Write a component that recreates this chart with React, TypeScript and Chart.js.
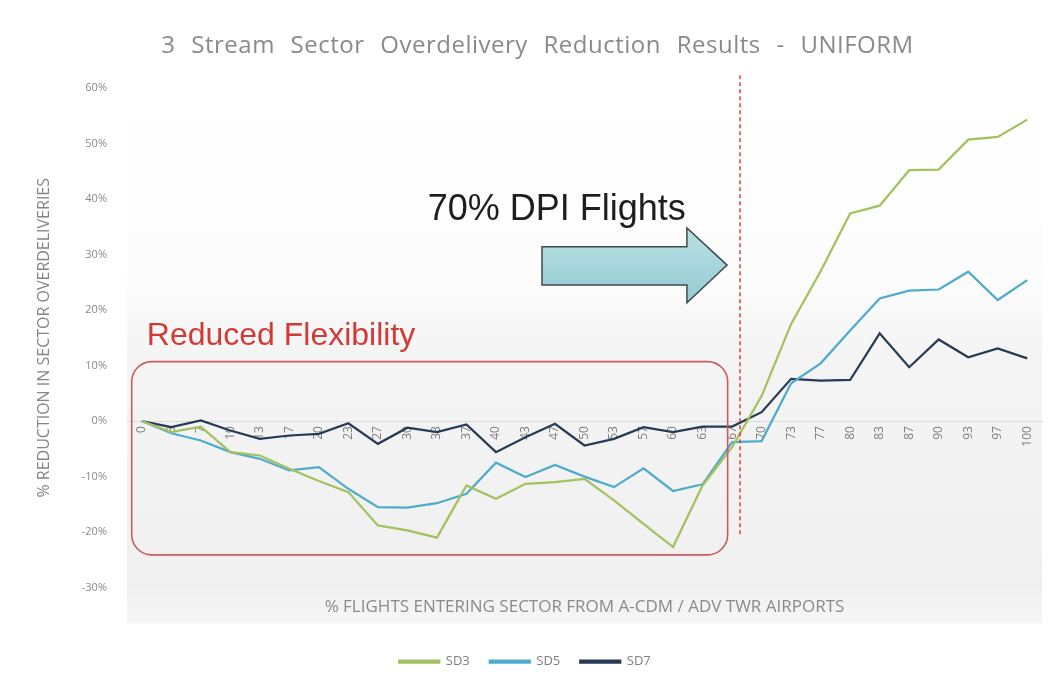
import React, { useEffect, useRef } from 'react';
import { Chart, registerables } from 'chart.js';

Chart.register(...registerables);

// ---------- data ----------
const CATEGORIES = ['0', '3', '7', '10', '13', '17', '20', '23', '27', '30', '33', '37', '40', '43', '47', '50', '53', '57', '60', '63', '67', '70', '73', '77', '80', '83', '87', '90', '93', '97', '100'];
const SD3 = [0, -2, -1, -5.6, -6.2, -8.6, -10.8, -12.8, -18.8, -19.7, -21, -11.6, -14, -11.3, -11, -10.4, -14.3, -18.5, -22.7, -11.6, -4.7, 4.5, 17.5, 27, 37.4, 38.8, 45.2, 45.3, 50.7, 51.2, 54.3];
const SD5 = [0, -2.2, -3.5, -5.6, -6.8, -8.9, -8.3, -12.2, -15.5, -15.6, -14.8, -13.1, -7.5, -10.1, -7.9, -10, -11.9, -8.5, -12.6, -11.4, -3.8, -3.6, 6.8, 10.4, 16.3, 22.1, 23.5, 23.7, 26.9, 21.8, 25.4];
const SD7 = [0, -1.1, 0.1, -1.7, -3.2, -2.6, -2.3, -0.4, -4.1, -1.2, -2.0, -0.6, -5.6, -2.9, -0.5, -4.4, -3.2, -1.1, -2.0, -1.0, -1.0, 1.6, 7.6, 7.3, 7.4, 15.8, 9.7, 14.7, 11.5, 13.1, 11.3];
const SERIES_NAMES = ['SD3', 'SD5', 'SD7'];
const Y_MIN = -30;
const Y_MAX = 60;
const Y_STEP = 10;

const TITLE = '3 Stream Sector Overdelivery Reduction Results - UNIFORM';
const Y_TITLE = '% REDUCTION IN SECTOR OVERDELIVERIES';
const X_TITLE = '% FLIGHTS ENTERING SECTOR FROM A-CDM / ADV TWR AIRPORTS';
const DPI_LABEL = '70% DPI Flights';
const FLEX_LABEL = 'Reduced Flexibility';

// annotation anchors in data space (category index, percent)
const DPI_MARKER_X = 20.27;
const DPI_MARKER_Y = [62.3, -20.4];
const FLEX_BOX = { x0: -0.34, x1: 19.85, y0: 10.7, y1: -24.1 };
const ARROW = { x0: 13.56, xHead: 18.47, xTip: 19.83, bodyTop: 31.4, bodyBottom: 24.5, headTop: 34.8, headBottom: 21.3, tipY: 28.1 };
const DPI_TEXT_POS = { x: 9.69, y: 36.2 };
const FLEX_TEXT_POS = { x: 0.17, y: 13.7 };

const COLORS = ['#a3c15e', '#4fabcc', '#263a56'];

const bgPlugin = {
  id: 'plotBg',
  beforeDraw(chart: any) {
    const { ctx, chartArea: a } = chart;
    const bottom = a.bottom + 36;
    const g = ctx.createLinearGradient(0, a.top, 0, bottom);
    g.addColorStop(0, '#ffffff');
    g.addColorStop(0.35, '#fcfcfc');
    g.addColorStop(0.5, '#f4f4f4');
    g.addColorStop(0.93, '#f0f0f0');
    g.addColorStop(1, '#f6f6f6');
    ctx.save();
    ctx.fillStyle = g;
    ctx.fillRect(a.left, a.top, a.right - a.left, bottom - a.top);
    ctx.restore();
  },
};

const titlePlugin = {
  id: 'spacedTitle',
  afterDraw(chart: any) {
    const { ctx } = chart;
    ctx.save();
    ctx.font = '24px "Open Sans", sans-serif';
    ctx.fillStyle = '#8a8a8a';
    ctx.textAlign = 'center';
    ctx.textBaseline = 'middle';
    try {
      (ctx as any).letterSpacing = '0.5px';
      (ctx as any).wordSpacing = '9px';
    } catch (e) {}
    ctx.fillText(TITLE, chart.width / 2 + 10, 38);
    ctx.restore();
  },
};

const annotPlugin = {
  id: 'annot',
  afterDatasetsDraw(chart: any) {
    const { ctx } = chart;
    const xs = chart.scales.x;
    const ys = chart.scales.y;
    const px = (v: number) => xs.getPixelForValue(v);
    const py = (v: number) => ys.getPixelForValue(v);
    ctx.save();

    // Reduced flexibility box
    ctx.strokeStyle = '#cc5a60';
    ctx.lineWidth = 1.6;
    ctx.beginPath();
    const bx = px(FLEX_BOX.x0);
    const by = py(FLEX_BOX.y0);
    ctx.roundRect(bx, by, px(FLEX_BOX.x1) - bx, py(FLEX_BOX.y1) - by, 20);
    ctx.stroke();

    // dashed marker
    ctx.strokeStyle = '#e0403a';
    ctx.lineWidth = 1.5;
    ctx.setLineDash([4, 3]);
    ctx.beginPath();
    ctx.moveTo(px(DPI_MARKER_X), py(DPI_MARKER_Y[0]));
    ctx.lineTo(px(DPI_MARKER_X), py(DPI_MARKER_Y[1]));
    ctx.stroke();
    ctx.setLineDash([]);

    // arrow
    const A = ARROW;
    const pts = [
      [A.x0, A.bodyTop], [A.xHead, A.bodyTop], [A.xHead, A.headTop], [A.xTip, A.tipY],
      [A.xHead, A.headBottom], [A.xHead, A.bodyBottom], [A.x0, A.bodyBottom],
    ];
    const g = ctx.createLinearGradient(0, py(A.headTop), 0, py(A.headBottom));
    g.addColorStop(0, '#b9e0e4');
    g.addColorStop(1, '#93cbd2');
    ctx.beginPath();
    pts.forEach(([x, y], i) => (i === 0 ? ctx.moveTo(px(x), py(y)) : ctx.lineTo(px(x), py(y))));
    ctx.closePath();
    ctx.fillStyle = g;
    ctx.fill();
    ctx.strokeStyle = '#3e4a4c';
    ctx.lineWidth = 1.5;
    ctx.stroke();

    // texts
    ctx.textBaseline = 'alphabetic';
    ctx.textAlign = 'left';
    ctx.fillStyle = '#1e1e1e';
    ctx.font = '36px "Liberation Sans", Arial, sans-serif';
    ctx.fillText(DPI_LABEL, px(DPI_TEXT_POS.x), py(DPI_TEXT_POS.y));
    ctx.fillStyle = '#d23a36';
    ctx.font = '32px "Liberation Sans", Arial, sans-serif';
    ctx.fillText(FLEX_LABEL, px(FLEX_TEXT_POS.x), py(FLEX_TEXT_POS.y));
    ctx.restore();
  },
};

export default function App() {
  const ref = useRef<HTMLCanvasElement | null>(null);
  useEffect(() => {
    if (!ref.current) return;
    const series = [SD3, SD5, SD7];
    const chart = new Chart(ref.current, {
      type: 'line',
      data: {
        labels: CATEGORIES,
        datasets: series.map((d, i) => ({
          label: SERIES_NAMES[i],
          data: d,
          borderColor: COLORS[i],
          backgroundColor: COLORS[i],
          borderWidth: 2.25,
          pointRadius: 0,
          tension: 0,
        })),
      },
      plugins: [bgPlugin, annotPlugin, titlePlugin],
      options: {
        animation: false,
        responsive: true,
        maintainAspectRatio: false,
        layout: { padding: { left: 0, right: 5, top: 80, bottom: 0 } },
        font: { family: '"Open Sans", sans-serif' },
        plugins: {
          title: { display: false },
          legend: {
            position: 'bottom',
            labels: {
              boxWidth: 40,
              boxHeight: 2,
              padding: 20,
              color: '#7f7f7f',
              font: { family: '"Open Sans", sans-serif', size: 13 },
            },
          },
          tooltip: { enabled: false },
        },
        scales: {
          x: {
            type: 'category',
            position: { y: 0 },
            offset: true,
            grid: { display: false, drawTicks: false },
            border: { display: true, color: '#dadada', width: 1 },
            ticks: {
              autoSkip: false,
              minRotation: 90,
              maxRotation: 90,
              padding: 5,
              color: '#7e7e7e',
              font: { family: '"Open Sans", sans-serif', size: 12 },
            },
          },
          x2: {
            type: 'category',
            position: 'bottom',
            offset: true,
            grid: { display: false, drawTicks: false },
            border: { display: false },
            ticks: { display: false },
            title: {
              display: true,
              text: X_TITLE,
              color: '#8a8a8a',
              font: { family: '"Open Sans", sans-serif', size: 17 },
              padding: { top: 9, bottom: 18 },
            },
          },
          y: {
            min: Y_MIN,
            max: Y_MAX,
            grid: { display: false, drawTicks: false },
            border: { display: false },
            ticks: {
              stepSize: Y_STEP,
              padding: 20,
              color: '#8a8a8a',
              font: { family: '"Open Sans", sans-serif', size: 11 },
              callback: (v: any) => `${v}%`,
            },
            title: {
              display: true,
              text: Y_TITLE,
              color: '#858585',
              font: { family: '"Open Sans", sans-serif', size: 16 },
              padding: { top: 27, bottom: 0 },
            },
            afterFit: (scale: any) => {
              scale.width = 119;
            },
          },
        },
      },
    } as any);
    return () => chart.destroy();
  }, []);
  return (
    <div style={{ width: 1039, height: 670, position: 'relative' }}>
      <canvas ref={ref} />
    </div>
  );
}
